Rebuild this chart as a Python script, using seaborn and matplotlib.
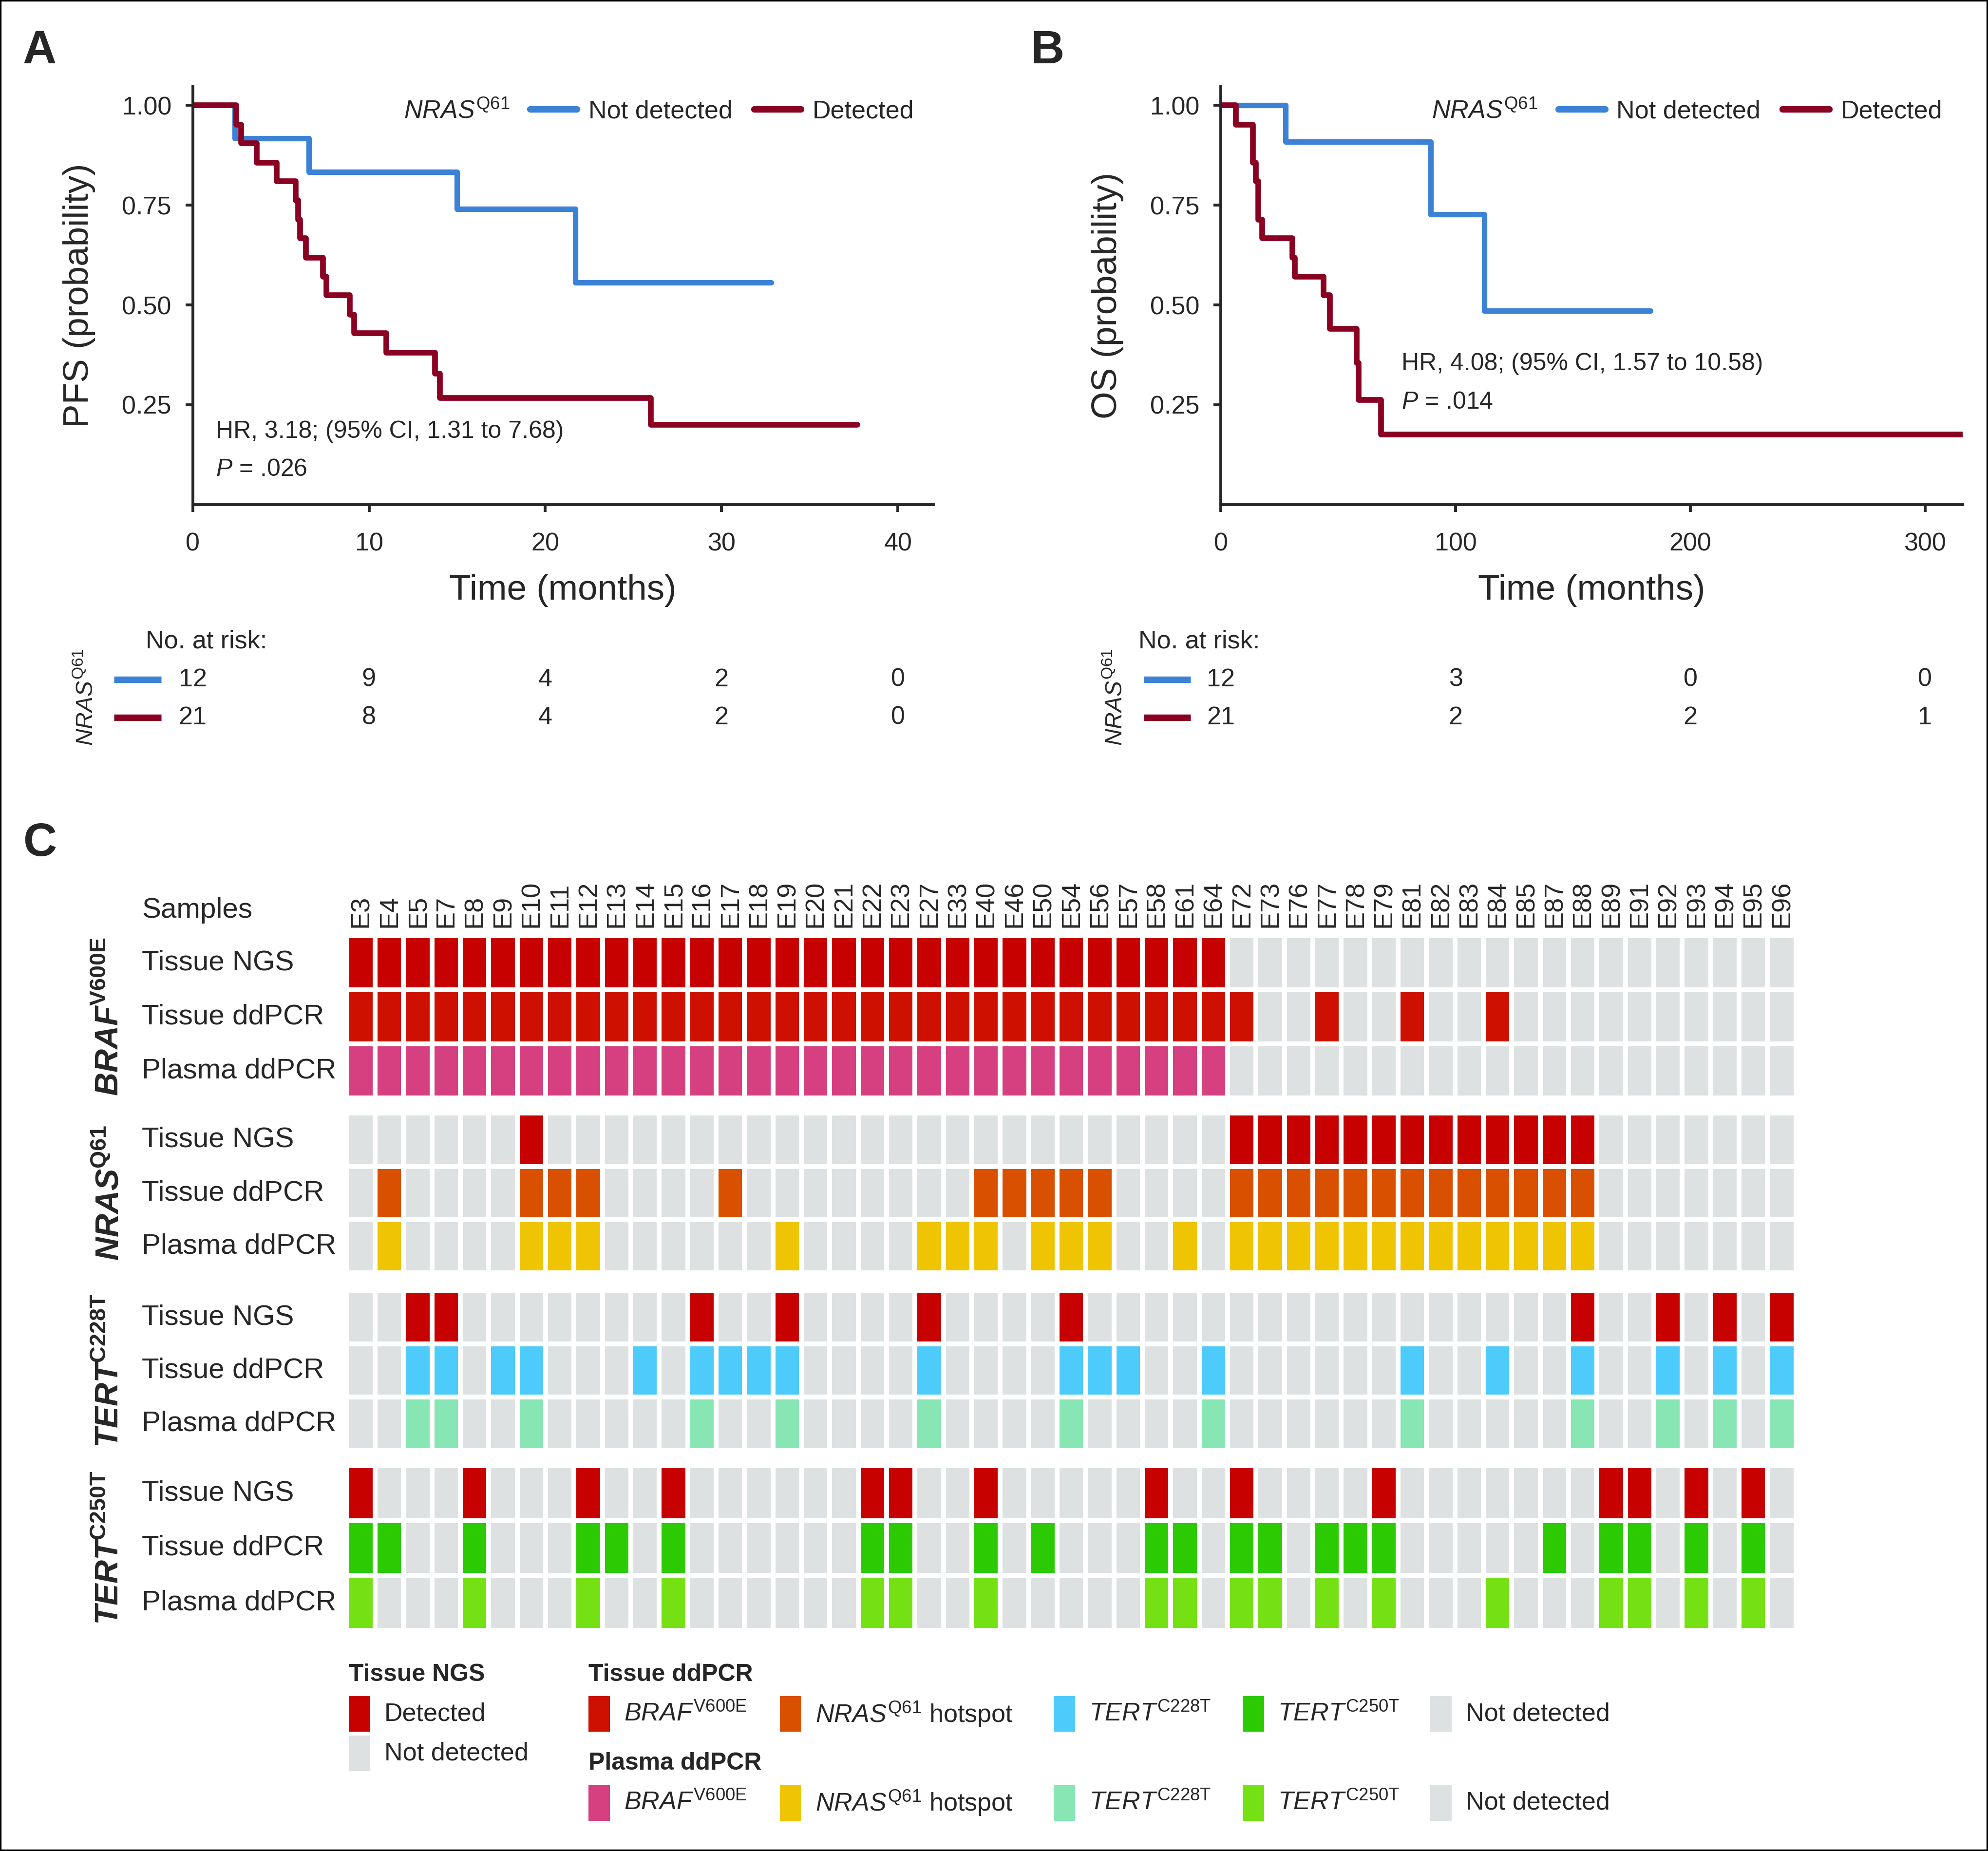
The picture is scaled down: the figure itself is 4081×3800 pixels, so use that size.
import matplotlib
matplotlib.use('Agg')
import numpy as np
import pandas as pd
import matplotlib.pyplot as plt
import matplotlib.transforms as mtrans
from matplotlib.colors import ListedColormap
from matplotlib.lines import Line2D
from matplotlib.patches import Rectangle
import seaborn as sns

sns.set_style('ticks')
plt.rcParams['font.family'] = ['Liberation Sans', 'DejaVu Sans']
plt.rcParams['mathtext.fontset'] = 'custom'
plt.rcParams['mathtext.rm'] = 'Liberation Sans'
plt.rcParams['mathtext.it'] = 'Liberation Sans:italic'
plt.rcParams['mathtext.bf'] = 'Liberation Sans:bold'
plt.rcParams['mathtext.bfit'] = 'Liberation Sans:italic:bold'

BLUE = '#3B82D7'
RED = '#8A0022'

# ---------------- Kaplan-Meier data ----------------
pfs_nd_t = [0, 2.4, 6.6, 15.0, 21.7, 32.8]
pfs_nd_s = [1.0, 0.917, 0.833, 0.741, 0.556, 0.556]
pfs_d_t = [0, 2.46, 2.74, 3.63, 4.75, 5.85, 5.99, 6.09, 6.41, 7.40, 7.58,
           8.91, 9.16, 10.99, 13.75, 14.03, 25.98, 37.7]
pfs_d_s = [1.0, 0.952, 0.905, 0.857, 0.810, 0.762, 0.714, 0.667, 0.619, 0.571,
           0.524, 0.476, 0.429, 0.381, 0.328, 0.267, 0.200, 0.200]

os_nd_t = [0, 27.6, 89.4, 112.3, 182.9]
os_nd_s = [1.0, 0.909, 0.727, 0.485, 0.485]
os_d_t = [0, 6.4, 13.6, 13.7, 14.9, 15.9, 16.0, 17.5, 30.5, 31.5, 43.7, 46.5,
          57.9, 58.6, 68.2, 316]
os_d_s = [1.0, 0.952, 0.905, 0.857, 0.810, 0.762, 0.714, 0.667, 0.619, 0.571,
          0.524, 0.440, 0.355, 0.262, 0.176, 0.176]

# number at risk
risk_a_t = [0, 10, 20, 30, 40]
risk_a_nd = [12, 9, 4, 2, 0]
risk_a_d = [21, 8, 4, 2, 0]
risk_b_t = [0, 100, 200, 300]
risk_b_nd = [12, 3, 0, 0]
risk_b_d = [21, 2, 2, 1]

# ---------------- mutation heatmap data ----------------
samples = ['E3', 'E4', 'E5', 'E7', 'E8', 'E9', 'E10', 'E11', 'E12', 'E13', 'E14',
           'E15', 'E16', 'E17', 'E18', 'E19', 'E20', 'E21', 'E22', 'E23', 'E27',
           'E33', 'E40', 'E46', 'E50', 'E54', 'E56', 'E57', 'E58', 'E61', 'E64',
           'E72', 'E73', 'E76', 'E77', 'E78', 'E79', 'E81', 'E82', 'E83', 'E84',
           'E85', 'E87', 'E88', 'E89', 'E91', 'E92', 'E93', 'E94', 'E95', 'E96']
row_names = ['Tissue NGS', 'Tissue ddPCR', 'Plasma ddPCR']

braf_ngs = samples[:31]
braf_tissue = samples[:31] + ['E72', 'E77', 'E81', 'E84']
braf_plasma = samples[:31]

nras_group = ['E72', 'E73', 'E76', 'E77', 'E78', 'E79', 'E81', 'E82', 'E83',
              'E84', 'E85', 'E87', 'E88']
nras_ngs = ['E10'] + nras_group
nras_tissue = ['E4', 'E10', 'E11', 'E12', 'E17', 'E40', 'E46', 'E50', 'E54',
               'E56'] + nras_group
nras_plasma = ['E4', 'E10', 'E11', 'E12', 'E19', 'E27', 'E33', 'E40', 'E50',
               'E54', 'E56', 'E61'] + nras_group

t228_ngs = ['E5', 'E7', 'E16', 'E19', 'E27', 'E54', 'E88', 'E92', 'E94', 'E96']
t228_tissue = ['E5', 'E7', 'E9', 'E10', 'E14', 'E16', 'E17', 'E18', 'E19', 'E27',
               'E54', 'E56', 'E57', 'E64', 'E81', 'E84', 'E88', 'E92', 'E94',
               'E96']
t228_plasma = ['E5', 'E7', 'E10', 'E16', 'E19', 'E27', 'E54', 'E64', 'E81',
               'E88', 'E92', 'E94', 'E96']

t250_ngs = ['E3', 'E8', 'E12', 'E15', 'E22', 'E23', 'E40', 'E58', 'E72', 'E79',
            'E89', 'E91', 'E93', 'E95']
t250_tissue = ['E3', 'E4', 'E8', 'E12', 'E13', 'E15', 'E22', 'E23', 'E40', 'E50',
               'E58', 'E61', 'E72', 'E73', 'E77', 'E78', 'E79', 'E87', 'E89',
               'E91', 'E93', 'E95']
t250_plasma = ['E3', 'E8', 'E12', 'E15', 'E22', 'E23', 'E40', 'E58', 'E61',
               'E72', 'E73', 'E77', 'E79', 'E84', 'E89', 'E91', 'E93', 'E95']

# colour codes: 0 not detected, 1 NGS detected, 2.. ddPCR per assay
heat_colors = ['#DDE1E1', '#C70000', '#CE1000', '#D63F80', '#D95000',
               '#EEC403', '#4DCBFB', '#88E5B4', '#2CCA03', '#75E014']
genes = [
    (r'$\mathbfit{BRAF}^{\mathbf{V600E}}$', [braf_ngs, braf_tissue, braf_plasma], [1, 2, 3]),
    (r'$\mathbfit{NRAS}^{\mathbf{Q61}}$', [nras_ngs, nras_tissue, nras_plasma], [1, 4, 5]),
    (r'$\mathbfit{TERT}^{\mathbf{C228T}}$', [t228_ngs, t228_tissue, t228_plasma], [1, 6, 7]),
    (r'$\mathbfit{TERT}^{\mathbf{C250T}}$', [t250_ngs, t250_tissue, t250_plasma], [1, 8, 9]),
]

# ---------------- figure ----------------
W, H = 1568, 1460          # layout frame (reference units)
fig = plt.figure(figsize=(4081 / 300, 3800 / 300), dpi=300)


def rect(x0, y0, x1, y1):
    return [x0 / W, 1 - y1 / H, (x1 - x0) / W, (y1 - y0) / H]


lay = fig.add_axes([0, 0, 1, 1])
lay.set_xlim(0, W)
lay.set_ylim(H, 0)
lay.axis('off')

FS = 12.5


def km_panel(box, t_nd, s_nd, t_d, s_d, xmax, xticks, ylabel, hr, p, hr_xy,
             risk_t, risk_nd, risk_d, title_right, key_x, risk_x, risk_lbl_x):
    ax = fig.add_axes(rect(*box))
    ax.set_facecolor('none')
    sns.lineplot(x=t_nd, y=s_nd, drawstyle='steps-post', estimator=None, sort=False,
                 color=BLUE, linewidth=2.7, ax=ax)
    sns.lineplot(x=t_d, y=s_d, drawstyle='steps-post', estimator=None, sort=False,
                 color=RED, linewidth=2.8, ax=ax)
    ax.set_xlim(0, xmax)
    ax.set_ylim(0, 1.048)
    ax.set_xticks(xticks)
    ax.set_yticks([0.25, 0.5, 0.75, 1.0])
    ax.set_yticklabels(['0.25', '0.50', '0.75', '1.00'])
    sns.despine(ax=ax)
    for s in ['left', 'bottom']:
        ax.spines[s].set_linewidth(1.4)
    ax.tick_params(axis='both', width=1.4, length=3.5, labelsize=FS)
    ax.tick_params(axis='x', pad=10)
    ax.tick_params(axis='y', pad=7)
    ax.set_xlabel('Time (months)', fontsize=17.5, labelpad=9)
    ax.set_ylabel(ylabel, fontsize=17.5, labelpad=13)
    ax.text(hr_xy[0], hr_xy[1], hr, fontsize=12, va='center')
    ax.text(hr_xy[0], hr_xy[2], p, fontsize=12, va='center')
    ax.legend(handles=[Line2D([], [], color=BLUE, lw=3.2),
                       Line2D([], [], color=RED, lw=3.2)],
              labels=['Not detected', 'Detected'], ncol=2, frameon=False,
              loc='center left', bbox_to_anchor=(key_x / W, 1 - 88 / H),
              bbox_transform=fig.transFigure, borderpad=0, borderaxespad=0,
              handlelength=1.85, handletextpad=0.45, columnspacing=0.85,
              fontsize=FS)
    lay.text(title_right, 88, r'$\mathit{NRAS}^{\mathrm{Q61}}$', ha='right',
             va='center', fontsize=FS)

    # number at risk table
    tr = mtrans.blended_transform_factory(ax.transData, lay.transData)
    lay.text(risk_lbl_x, 506, 'No. at risk:', fontsize=FS, va='center')
    lay.plot([risk_x, risk_x + 37], [536, 536], color=BLUE, lw=3.2, solid_capstyle='butt')
    lay.plot([risk_x, risk_x + 37], [566, 566], color=RED, lw=3.2, solid_capstyle='butt')
    lay.text(risk_x - 22, 550, r'$\mathit{NRAS}^{\mathrm{Q61}}$', rotation=90,
             ha='center', va='center', fontsize=11.5)
    for t, a, b in zip(risk_t, risk_nd, risk_d):
        lay.text(t, 536, str(a), transform=tr, ha='center', va='center', fontsize=FS)
        lay.text(t, 566, str(b), transform=tr, ha='center', va='center', fontsize=FS)
    return ax


km_panel((152, 68, 736, 398), pfs_nd_t, pfs_nd_s, pfs_d_t, pfs_d_s, 42,
         [0, 10, 20, 30, 40], 'PFS (probability)',
         'HR, 3.18; (95% CI, 1.31 to 7.68)', r'$P$ = .026', (1.3, 0.183, 0.088),
         risk_a_t, risk_a_nd, risk_a_d, 402, 418, 90, 115)
km_panel((963, 68, 1548, 398), os_nd_t, os_nd_s, os_d_t, os_d_s, 316,
         [0, 100, 200, 300], 'OS (probability)',
         'HR, 4.08; (95% CI, 1.57 to 10.58)', r'$P$ = .014', (77, 0.352, 0.256),
         risk_b_t, risk_b_nd, risk_b_d, 1213, 1229, 902, 898)

# ---------------- panel C heatmap ----------------
cmap = ListedColormap(heat_colors)
group_boxes = [(738, 866), (878, 1004), (1018, 1144), (1156, 1286)]
for gi, ((glabel, rows, codes), (y0, y1)) in enumerate(zip(genes, group_boxes)):
    mat = np.zeros((3, len(samples)), dtype=int)
    for r, (det, code) in enumerate(zip(rows, codes)):
        for s in det:
            mat[r, samples.index(s)] = code
    df = pd.DataFrame(mat, index=row_names, columns=samples)
    ax = fig.add_axes(rect(273.5, y0, 1416.5, y1))
    sns.heatmap(df, ax=ax, cmap=cmap, vmin=-0.5, vmax=9.5, cbar=False,
                linewidths=2.3, linecolor='white',
                xticklabels=samples if gi == 0 else False, yticklabels=row_names)
    ax.tick_params(axis='y', length=0, pad=101, labelsize=14, labelrotation=0)
    for lab in ax.get_yticklabels():
        lab.set_ha('left')
    if gi == 0:
        ax.xaxis.tick_top()
        ax.tick_params(axis='x', length=0, pad=4, labelsize=13, labelrotation=90,
                       labeltop=True, labelbottom=False)
    ax.set_xlabel('')
    ax.set_ylabel('')
    lay.text(87, (y0 + y1) / 2, glabel, rotation=90, ha='center', va='center',
             fontsize=16)

lay.text(112, 718, 'Samples', fontsize=14, va='center')

# panel letters
for letter, x, y in [('A', 18, 50), ('B', 813, 50), ('C', 18, 675)]:
    lay.text(x, y, letter, fontsize=23, fontweight='bold', va='baseline')

# ---------------- legend of panel C ----------------
lay.text(275, 1321, 'Tissue NGS', fontsize=12, fontweight='bold', va='center')
lay.text(464, 1321, 'Tissue ddPCR', fontsize=12, fontweight='bold', va='center')
lay.text(464, 1391, 'Plasma ddPCR', fontsize=12, fontweight='bold', va='center')


def key(x, yc, color, label):
    lay.add_patch(Rectangle((x, yc - 14), 17, 28, facecolor=color, edgecolor='none'))
    lay.text(x + 28, yc, label, fontsize=FS, va='center')


key(275, 1352, heat_colors[1], 'Detected')
key(275, 1383, heat_colors[0], 'Not detected')
leg_x = [464, 615, 831, 980, 1128]
tissue_labels = [r'$\mathit{BRAF}^{\mathrm{V600E}}$', r'$\mathit{NRAS}^{\mathrm{Q61}}$ hotspot',
                 r'$\mathit{TERT}^{\mathrm{C228T}}$', r'$\mathit{TERT}^{\mathrm{C250T}}$',
                 'Not detected']
for x, c, lab in zip(leg_x, [2, 4, 6, 8, 0], tissue_labels):
    key(x, 1352, heat_colors[c], lab)
for x, c, lab in zip(leg_x, [3, 5, 7, 9, 0], tissue_labels):
    key(x, 1422, heat_colors[c], lab)

# thin frame around the whole figure
fig.patches.append(Rectangle((0, 0), 1, 1, transform=fig.transFigure, fill=False,
                             edgecolor='black', linewidth=1.5))

fig.savefig('out.png', dpi=300, facecolor='white')
